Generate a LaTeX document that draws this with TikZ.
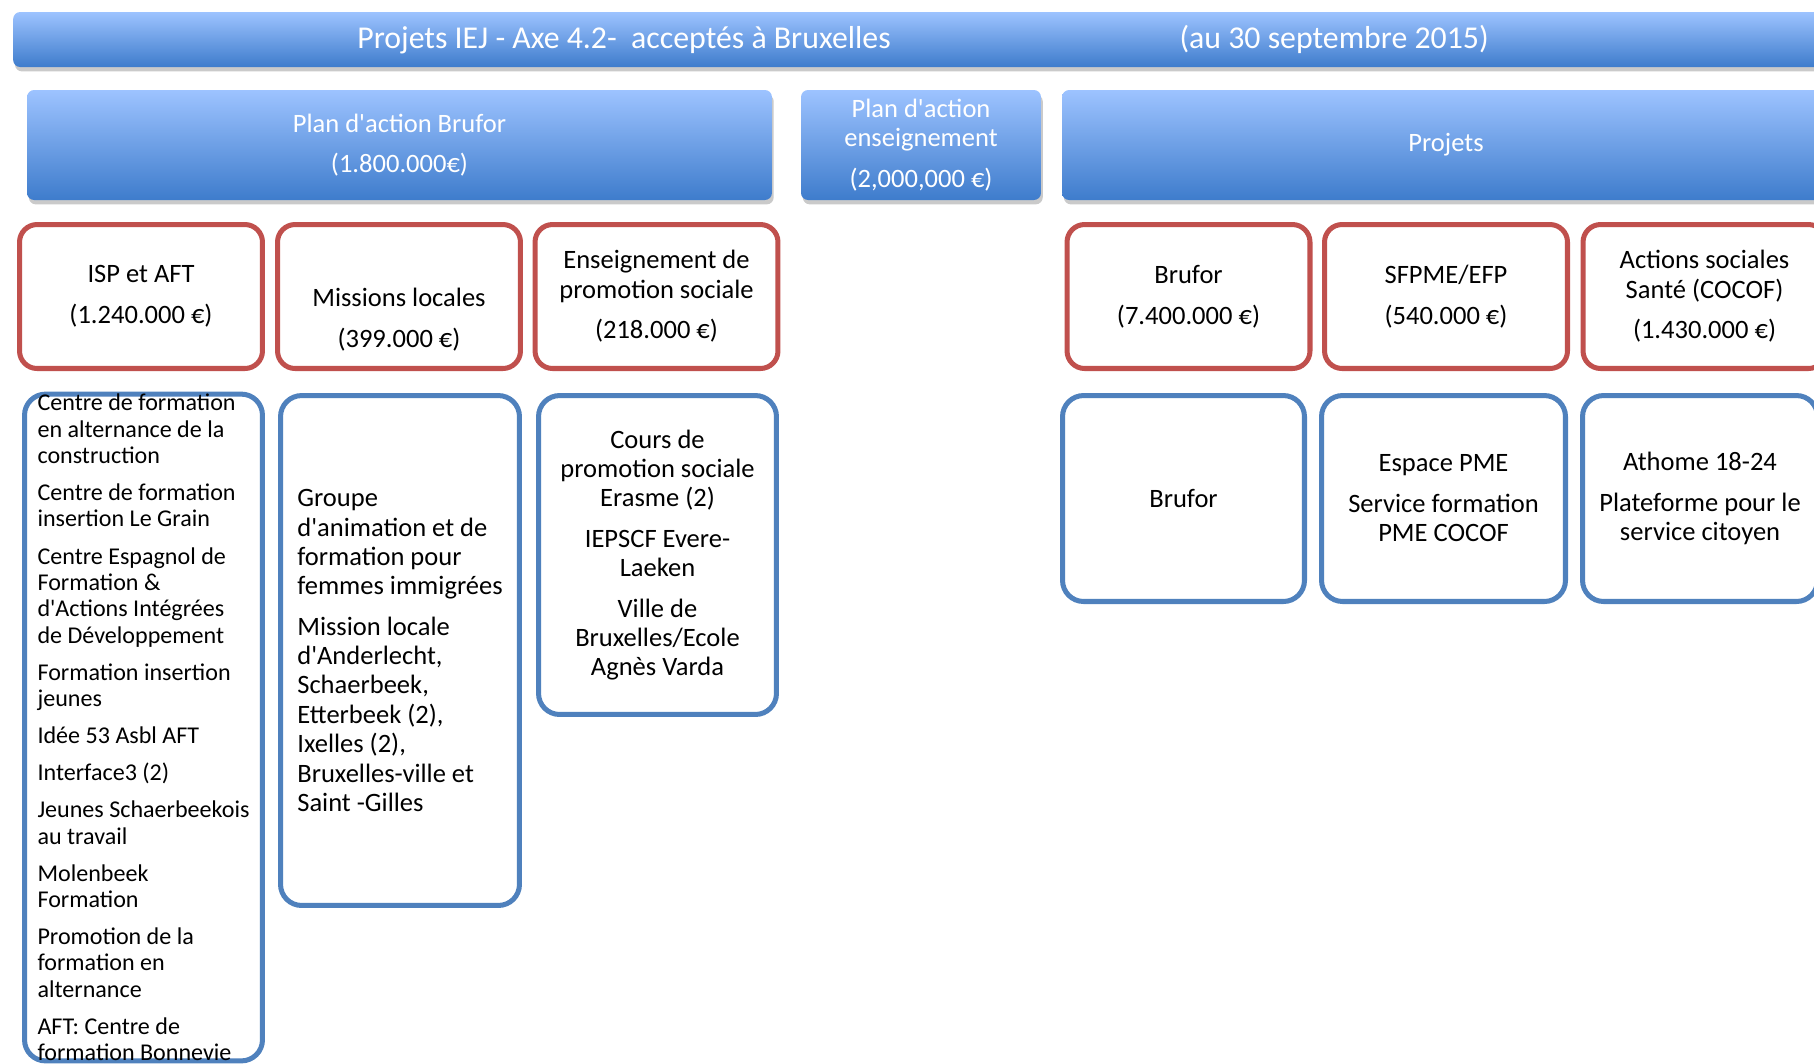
\documentclass[tikz,border=0pt]{standalone}
\usepackage{fontspec}
\setmainfont{Carlito}
\usetikzlibrary{shadows}

\definecolor{hdrtop}{RGB}{157,195,255}
\definecolor{hdrbot}{RGB}{62,124,204}
\definecolor{cadrerouge}{RGB}{192,80,77}
\definecolor{cadrebleu}{RGB}{79,129,189}

\newcommand{\titrefont}{\fontsize{18.1}{20}\selectfont}
\newcommand{\cadrefont}{\fontsize{15.1}{16.7}\selectfont}
\newcommand{\listefont}{\fontsize{13.7}{15}\selectfont}
\newcommand{\apos}{\textquotesingle}

\begin{document}
\begin{tikzpicture}[x=0.02cm, y=-0.02cm,
  hdr/.style={rounded corners=4pt, top color=hdrtop, bottom color=hdrbot,
    text=white, font=\cadrefont, align=center, inner sep=0pt,
    drop shadow={shadow xshift=1pt, shadow yshift=-2.5pt, opacity=.35, fill=black!60}},
  rouge/.style={draw=cadrerouge, line width=2.85pt, rounded corners=10pt, fill=white,
    font=\cadrefont, align=center, inner sep=0pt, minimum width=4.86cm, minimum height=2.88cm},
  bleu/.style={draw=cadrebleu, line width=2.85pt, rounded corners=12pt, fill=white,
    font=\cadrefont, align=center, inner sep=0pt}]
\useasboundingbox (0,0) rectangle (1814,1063);

% bandeau du titre
\node[hdr, font=\titrefont, minimum width=36.4cm, minimum height=1.1cm] (titre) at (923,39.5)
  {Projets IEJ - Axe 4.2-\ \ acceptés à Bruxelles\hspace{5.78cm}(au 30 septembre 2015)};

\node[hdr, minimum width=14.9cm, minimum height=2.2cm] (hBrufor) at (399.5,145)
  {Plan d\apos action Brufor\\[6.4pt](1.800.000€)};
\node[hdr, minimum width=4.8cm, minimum height=2.2cm] (hEns) at (921,145)
  {Plan d\apos action\\enseignement\\[6.4pt](2,000,000 €)};
\node[hdr, minimum width=15.36cm, minimum height=2.2cm] (hProj) at (1446,145) {Projets};

\node[rouge] (rISP) at (141,296.5) {ISP et AFT\\[6.4pt](1.240.000 €)};
\node[rouge] (rML) at (399,296.5) {\mbox{}\\[20pt]Missions locales\\[6.4pt](399.000 €)};
\node[rouge] (rEPS) at (656.5,296.5) {Enseignement de\\promotion sociale\\[6.4pt](218.000 €)};
\node[rouge] (rBrufor) at (1188.5,296.5) {Brufor\\[6.4pt](7.400.000 €)};
\node[rouge] (rSFPME) at (1446,296.5) {SFPME/EFP\\[6.4pt](540.000 €)};
\node[rouge] (rActions) at (1704.5,296.5) {Actions sociales\\Santé (COCOF)\\[6.4pt](1.430.000 €)};

\node[bleu, font=\listefont, align=left, minimum width=4.76cm, minimum height=13.28cm] (bISP) at (143.5,727.5)
  {Centre de formation\\en alternance de la\\construction\\[6.1pt]
   Centre de formation\\insertion Le Grain\\[6.1pt]
   Centre Espagnol de\\Formation \&\\d\apos Actions Intégrées\\de Développement\\[6.1pt]
   Formation insertion\\jeunes\\[6.1pt]
   Idée 53 Asbl AFT\\[6.1pt]
   Interface3 (2)\\[6.1pt]
   Jeunes Schaerbeekois\\au travail\\[6.1pt]
   Molenbeek\\Formation\\[6.1pt]
   Promotion de la\\formation en\\alternance\\[6.1pt]
   AFT: Centre de\\formation Bonnevie};
\node[bleu, align=left, minimum width=4.78cm, minimum height=10.2cm] (bML) at (400,650.5)
  {Groupe\\d\apos animation et de\\formation pour\\femmes immigrées\\[6.4pt]
   Mission locale\\d\apos Anderlecht,\\Schaerbeek,\\Etterbeek (2),\\Ixelles (2),\\Bruxelles-ville et\\Saint -Gilles};
\node[bleu, minimum width=4.76cm, minimum height=6.38cm] (bEPS) at (657.5,555)
  {Cours de\\promotion sociale\\Erasme (2)\\[6.4pt]IEPSCF Evere-\\Laeken\\[6.4pt]Ville de\\Bruxelles/Ecole\\Agnès Varda};

\node[bleu, minimum width=4.84cm, minimum height=4.12cm] (bBrufor) at (1183.5,498.5) {Brufor};
\node[bleu, minimum width=4.88cm, minimum height=4.12cm] (bPME) at (1443.5,498.5)
  {Espace PME\\[6.4pt]Service formation\\PME COCOF};
\node[bleu, minimum width=4.7cm, minimum height=4.12cm] (bAthome) at (1700,498.5)
  {Athome 18-24\\[6.4pt]Plateforme pour le\\service citoyen};
\end{tikzpicture}
\end{document}
